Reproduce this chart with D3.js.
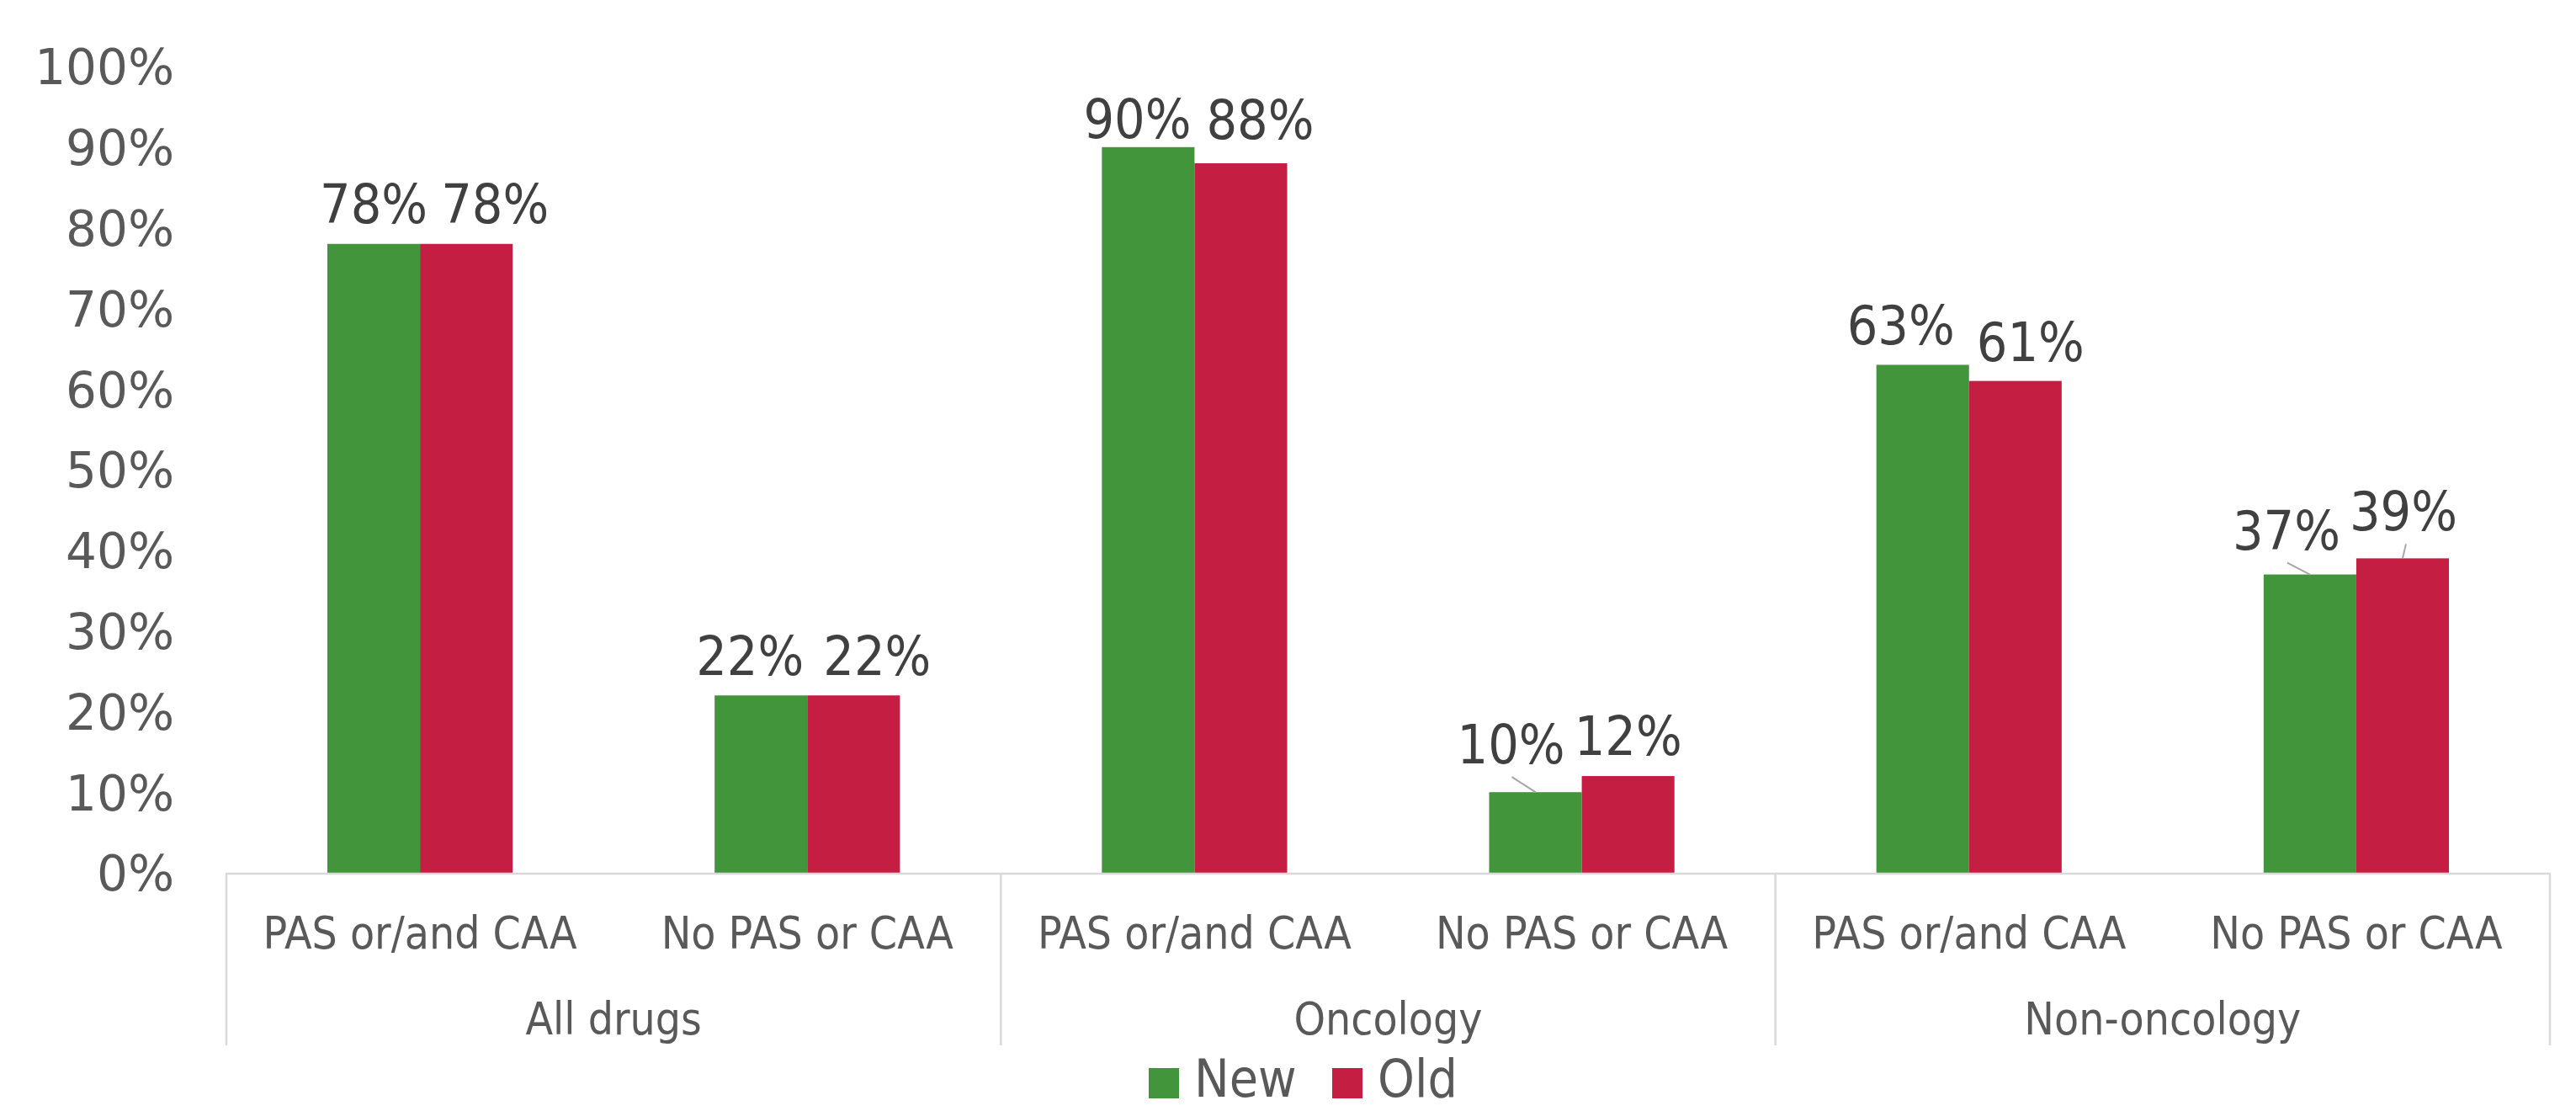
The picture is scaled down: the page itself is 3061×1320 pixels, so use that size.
<!DOCTYPE html>
<html><head><meta charset="utf-8">
<script src="https://cdn.jsdelivr.net/npm/d3@7"></script>
<style>html,body{margin:0;padding:0;background:#fff;}svg{display:block;}</style>
</head><body>
<svg id="chart" width="3061" height="1320"></svg>
<script>
// ---- data ----
const groups = ["All drugs", "Oncology", "Non-oncology"];
const subCategories = ["PAS or/and CAA", "No PAS or CAA"];
const seriesNames = ["New", "Old"];
const newValues = [0.78, 0.22, 0.90, 0.10, 0.63, 0.37];
const oldValues = [0.78, 0.22, 0.88, 0.12, 0.61, 0.39];
const yTicks = [0, 0.1, 0.2, 0.3, 0.4, 0.5, 0.6, 0.7, 0.8, 0.9, 1.0];

// ---- layout ----
const colors = {New: "#43953B", Old: "#C41F43"};
const x0 = 269, x1 = 3030, yBase = 1037, yTop = 79;
const svg = d3.select("#chart");

const cats = [];
groups.forEach(g => subCategories.forEach(s => cats.push(g + "|" + s)));

const x = d3.scaleBand().domain(cats).range([x0, x1]).padding(0);
const xs = d3.scaleBand().domain(seriesNames).range([0, x.bandwidth()]).paddingInner(0).paddingOuter(1.09);
const y = d3.scaleLinear().domain([0, 1]).range([yBase, yTop]);
const gx = d3.scaleBand().domain(groups).range([x0, x1]).padding(0);

const rows = [];
cats.forEach((c, i) => {
  rows.push({cat: c, s: "New", v: newValues[i], i});
  rows.push({cat: c, s: "Old", v: oldValues[i], i});
});

// bars
svg.append("g").selectAll("rect").data(rows).join("rect")
  .attr("x", d => x(d.cat) + xs(d.s))
  .attr("width", xs.bandwidth())
  .attr("y", d => y(d.v))
  .attr("height", d => y(0) - y(d.v))
  .attr("fill", d => colors[d.s]);

// axis lines
const axisColor = "#d9d9d9";
svg.append("line").attr("x1", x0).attr("x2", x1).attr("y1", yBase + 1).attr("y2", yBase + 1)
  .attr("stroke", axisColor).attr("stroke-width", 2.5);
const dividers = groups.map(g => gx(g)).concat([x1]);
svg.append("g").selectAll("line").data(dividers).join("line")
  .attr("x1", d => d).attr("x2", d => d).attr("y1", yBase).attr("y2", 1242)
  .attr("stroke", axisColor).attr("stroke-width", 2.5);

// y tick labels
const yAxis = d3.axisLeft(y).tickValues(yTicks).tickFormat(d3.format(".0%")).tickSize(0).tickPadding(0);
const ya = svg.append("g").attr("transform", "translate(207,0)").call(yAxis);
ya.select(".domain").remove();
ya.selectAll("text").attr("font-family", "DejaVu Sans").attr("font-size", 58)
  .attr("fill", "#595959").attr("dy", "0.36em");

// category labels
svg.append("g").selectAll("text").data(cats).join("text")
  .attr("x", d => x(d) + x.bandwidth() / 2).attr("y", 1127)
  .attr("text-anchor", "middle").attr("font-family", "DejaVu Sans Condensed")
  .attr("font-size", 53).attr("fill", "#595959")
  .text(d => d.split("|")[1]);

svg.append("g").selectAll("text").data(groups).join("text")
  .attr("x", d => gx(d) + gx.bandwidth() / 2).attr("y", 1229)
  .attr("text-anchor", "middle").attr("font-family", "DejaVu Sans Condensed")
  .attr("font-size", 53).attr("fill", "#595959")
  .text(d => d);

// data labels: offsets from the default (centred, 25px above bar) position
const labelOffsets = {
  "0|New": [0, 0],    "0|Old": [34, 0],
  "1|New": [-13, 1],  "1|Old": [28, 1],
  "2|New": [-13, 14], "2|Old": [23, -4],
  "3|New": [-29, -9], "3|Old": [0, 0],
  "4|New": [-26, 1],  "4|Old": [18, 1],
  "5|New": [-28, -5], "5|Old": [1, -8]
};
const leaders = ["3|New", "5|New", "5|Old"];
const fmt = d3.format(".0%");
const lbl = svg.append("g");
rows.forEach(d => {
  const key = d.i + "|" + d.s;
  const cx = x(d.cat) + xs(d.s) + xs.bandwidth() / 2;
  const top = y(d.v);
  const n = labelOffsets[key] || [0, 0];
  const tx = cx + n[0], ty = top - 25 + n[1];
  if (leaders.includes(key)) {
    lbl.append("line").attr("x1", d.s === "New" ? tx + 1 : tx + 3).attr("y1", ty + 16)
      .attr("x2", cx).attr("y2", top)
      .attr("stroke", "#a6a6a6").attr("stroke-width", 2);
  }
  lbl.append("text").attr("x", tx).attr("y", ty)
    .attr("text-anchor", "middle").attr("font-family", "DejaVu Sans Condensed")
    .attr("font-size", 64).attr("fill", "#404040").text(fmt(d.v));
});

// legend
const leg = svg.append("g");
const legItems = [{s: "New", x: 1365}, {s: "Old", x: 1583}];
leg.selectAll("rect").data(legItems).join("rect")
  .attr("x", d => d.x).attr("y", 1269).attr("width", 36).attr("height", 36)
  .attr("fill", d => colors[d.s]);
leg.selectAll("text").data(legItems).join("text")
  .attr("x", d => d.x + 54).attr("y", 1303)
  .attr("font-family", "DejaVu Sans Condensed").attr("font-size", 62)
  .attr("fill", "#595959").text(d => d.s);
</script>
</body></html>
